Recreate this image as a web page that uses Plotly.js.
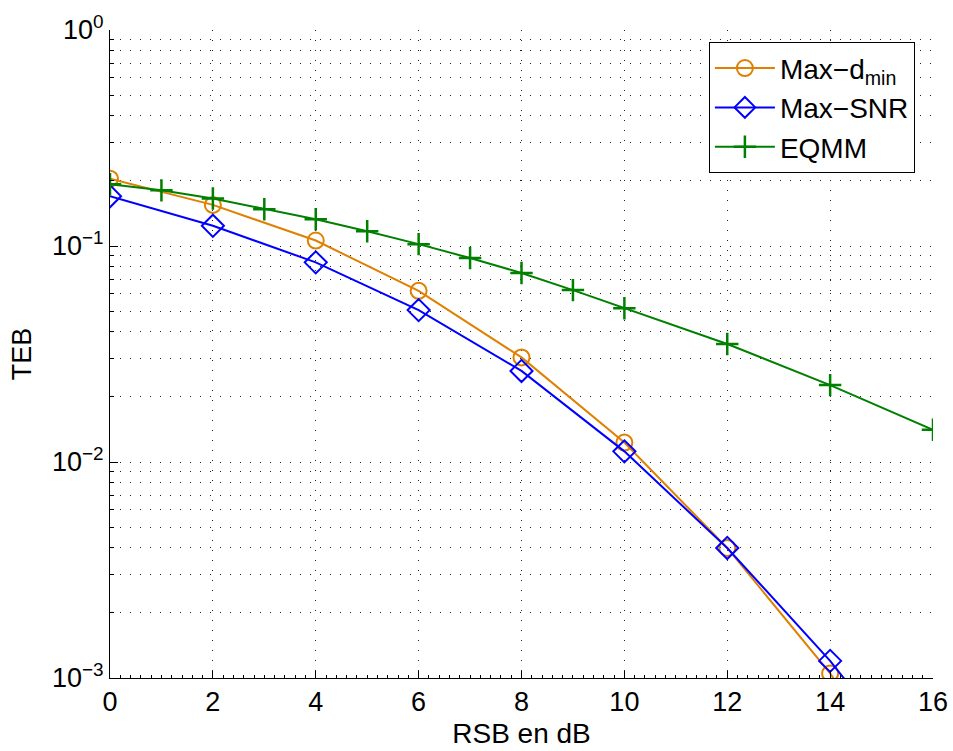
<!DOCTYPE html>
<html>
<head>
<meta charset="utf-8">
<script src="https://cdn.plot.ly/plotly-3.0.1.min.js"></script>
<style>html,body{margin:0;padding:0;background:#fff;}#chart{width:953px;height:751px;}</style>
</head>
<body>
<div id="chart"></div>
<script>
// Data
const snrDmin = [0, 2, 4, 6, 8, 10, 12, 14, 16];
const maxDmin = [0.205, 0.155, 0.106, 0.062, 0.0305, 0.0123, 0.0040, 0.00105, 0.0002];
const snrSnr = [0, 2, 4, 6, 8, 10, 12, 14, 16];
const maxSnr = [0.170, 0.124, 0.084, 0.0505, 0.0264, 0.0112, 0.0040, 0.0012, 0.0003];
const snrEqmm = [0, 1, 2, 3, 4, 5, 6, 7, 8, 9, 10, 12, 14, 16];
const eqmm = [0.193, 0.181, 0.166, 0.148, 0.133, 0.117, 0.102, 0.088, 0.075, 0.0625, 0.0515, 0.0352, 0.0227, 0.0141];
const xTicks = [0, 2, 4, 6, 8, 10, 12, 14, 16];
const yTickVals = [0.001, 0.01, 0.1, 1];
const yTickText = ['10<sup>−3</sup>', '10<sup>−2</sup>', '10<sup>−1</sup>', '10<sup>0</sup>'];

const orange = '#E08000';
const blue = '#0000FF';
const green = '#008000';

const traces = [
  {x: snrDmin, y: maxDmin, name: 'Max−d<sub>min</sub>', mode: 'lines+markers', type: 'scatter',
   line: {color: orange, width: 2},
   marker: {symbol: 'circle-open', size: 16, color: orange, line: {width: 2, color: orange}}},
  {x: snrSnr, y: maxSnr, name: 'Max−SNR', mode: 'lines+markers', type: 'scatter',
   line: {color: blue, width: 2},
   marker: {symbol: 'diamond-open', size: 17, color: blue, line: {width: 2, color: blue}}},
  {x: snrEqmm, y: eqmm, name: 'EQMM', mode: 'lines+markers', type: 'scatter',
   line: {color: green, width: 2},
   marker: {symbol: 'cross-thin', size: 16, color: green, line: {width: 2.5, color: green}}}
];

const fam = 'Liberation Sans, Arial, Helvetica, sans-serif';
const dotGrid = '1px,9px';

const layout = {
  width: 953, height: 751,
  margin: {l: 110, r: 20, t: 30, b: 73},
  paper_bgcolor: '#fff', plot_bgcolor: '#fff',
  font: {family: fam, size: 27, color: '#000'},
  showlegend: true,
  legend: {x: 0.978, y: 0.981, xanchor: 'right', yanchor: 'top',
           bordercolor: '#000', borderwidth: 1, bgcolor: '#fff',
           font: {family: fam, size: 28, color: '#000'},
           tracegroupgap: 4, itemwidth: 60},
  xaxis: {
    range: [0, 16], tickvals: xTicks, ticktext: xTicks.map(String),
    ticks: 'inside', ticklen: 7, tickcolor: '#000', tickwidth: 1,
    showline: true, linecolor: '#000', linewidth: 1, mirror: false,
    showgrid: true, gridcolor: '#222', griddash: dotGrid, gridwidth: 1,
    zeroline: false,
    minor: {dtick: 0.2, ticks: 'inside', ticklen: 3, tickcolor: '#000', showgrid: false},
    title: {text: 'RSB en dB', font: {family: fam, size: 28}, standoff: 6},
    tickfont: {family: fam, size: 27}
  },
  yaxis: {
    type: 'log', range: [-3, 0],
    tickvals: yTickVals, ticktext: yTickText,
    ticks: 'inside', ticklen: 8, tickcolor: '#000', tickwidth: 1,
    showline: true, linecolor: '#000', linewidth: 1, mirror: false,
    showgrid: true, gridcolor: '#222', griddash: dotGrid, gridwidth: 1,
    zeroline: false,
    minor: {dtick: 'D1', ticks: 'inside', ticklen: 4, tickcolor: '#000',
            showgrid: true, gridcolor: '#222', griddash: dotGrid, gridwidth: 1},
    title: {text: 'TEB', font: {family: fam, size: 27}, standoff: 12},
    tickfont: {family: fam, size: 27}
  }
};

Plotly.newPlot('chart', traces, layout, {displayModeBar: false, staticPlot: true});
</script>
</body>
</html>
